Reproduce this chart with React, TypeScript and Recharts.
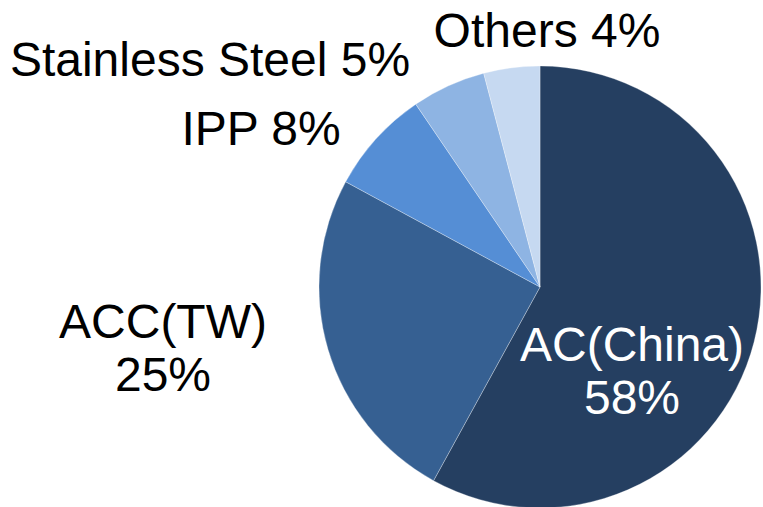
import React from "react";
import { PieChart, Pie, Cell } from "recharts";

const categories = ["AC(China)", "ACC(TW)", "IPP", "Stainless Steel", "Others"];
const shares = [58, 24.9, 7.6, 5.4, 4.1];
const percentLabels = ["58%", "25%", "8%", "5%", "4%"];
const colors = ["#253F61", "#366092", "#558ED5", "#8EB4E3", "#C6D9F1"];
const labelColors = ["#FFFFFF", "#000000", "#000000", "#000000", "#000000"];
// label layout: offsets of text relative to pie centre; twoLines splits name and percent
const labelLayout = [
  { dx: 92, dy: 74, twoLines: true },
  { dx: -377, dy: 51, twoLines: true },
  { dx: -279, dy: -142, twoLines: false },
  { dx: -330, dy: -211, twoLines: false },
  { dx: 7, dy: -240, twoLines: false },
];

const data = categories.map((name, i) => ({ name, value: shares[i] }));

const FONT = "'Liberation Sans', Arial, Helvetica, sans-serif";
const FONT_SIZE = 48;
const LINE_GAP = 53;

const renderLabel = (props: any) => {
  const { cx, cy, index } = props;
  const lay = labelLayout[index];
  const x = Number(cx) + lay.dx;
  const y = Number(cy) + lay.dy;
  const common = {
    x,
    textAnchor: "middle" as const,
    fill: labelColors[index],
    fontFamily: FONT,
    fontSize: FONT_SIZE,
  };
  if (lay.twoLines) {
    return (
      <g key={`lbl-${index}`}>
        <text {...common} y={y}>{categories[index]}</text>
        <text {...common} y={y + LINE_GAP}>{percentLabels[index]}</text>
      </g>
    );
  }
  return (
    <text key={`lbl-${index}`} {...common} y={y}>
      {`${categories[index]} ${percentLabels[index]}`}
    </text>
  );
};

export default function App() {
  return (
    <div style={{ position: "absolute", left: 0, top: 0, width: 763, height: 507, background: "#fff" }}>
      <PieChart width={763} height={507} margin={{ top: 0, right: 0, bottom: 0, left: 0 }}>
        <Pie
          data={data}
          dataKey="value"
          nameKey="name"
          cx={540}
          cy={287}
          outerRadius={221}
          startAngle={90}
          endAngle={-270}
          stroke="#ffffff"
          strokeWidth={0.6}
          strokeOpacity={0.5}
          labelLine={false}
          label={renderLabel}
          isAnimationActive={false}
        >
          {data.map((d, i) => (
            <Cell key={d.name} fill={colors[i]} />
          ))}
        </Pie>
      </PieChart>
    </div>
  );
}
